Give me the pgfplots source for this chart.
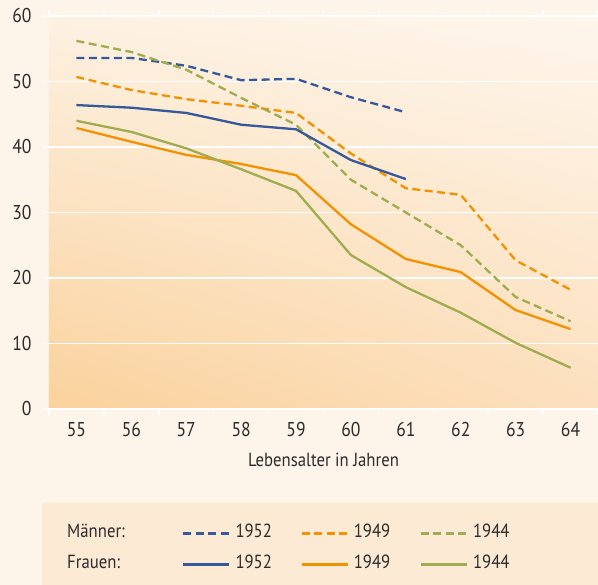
\documentclass[border=0pt]{standalone}
\usepackage{fontspec}
\setmainfont{PT Sans}[FakeStretch=0.88]
\usepackage{pgfplots}
\pgfplotsset{compat=1.18}
\usetikzlibrary{shadings}
\definecolor{cblue}{HTML}{35599A}
\definecolor{corange}{HTML}{F39200}
\definecolor{cgreen}{HTML}{A0AC50}
\definecolor{bgout}{HTML}{FDF4EA}
\definecolor{legbg}{HTML}{FDEAD4}
\definecolor{txt}{HTML}{2B2B2B}
\definecolor{sLL}{HTML}{FAD29C}
\definecolor{sLR}{HTML}{FCE0BE}
\definecolor{sUL}{HTML}{FDF1E2}
\definecolor{sUR}{HTML}{FEF6EC}
\begin{document}
\fontsize{19}{22}\selectfont
\begin{tikzpicture}
\path[use as bounding box] (0,0) rectangle (598pt,585pt);
\fill[bgout] (0,0) rectangle (598pt,585pt);
\fill[legbg] (42pt,0) rectangle (598pt,82pt);
\begin{axis}[
  at={(49pt,176pt)}, anchor=south west,
  scale only axis, width=549pt, height=393pt,
  xmin=54.5, xmax=64.5, ymin=0, ymax=60,
  xtick={55,...,64},
  minor xtick={54.5,55.5,...,64.5},
  ytick={0,10,...,60},
  axis line style={draw=none},
  major x tick style={draw=none},
  minor x tick style={white, line width=1.5pt},
  major y tick style={white, line width=1.5pt},
  tick align=outside,
  major tick length=6pt, minor tick length=6pt,
  ymajorgrids, major grid style={white, line width=1.5pt},
  ticklabel style={font=\fontsize{20}{23}\selectfont, text=txt},
  /pgf/number format/assume math mode=true,
  yticklabel style={xshift=-5pt},
  xticklabel style={yshift=-1pt},
  xlabel={Lebensalter in Jahren},
  xlabel style={font=\fontsize{19}{22}\selectfont, text=txt, yshift=-3pt},
  axis background/.style={shade, lower left=sLL, lower right=sLR, upper left=sUL, upper right=sUR},
  every axis plot/.append style={line width=2.3pt},
  legend image code/.code={\draw[#1] (0pt,0pt) -- (46pt,0pt);},
  legend columns=4,
  legend cell align=left,
  legend style={at={(axis description cs:0.0328,-0.297)}, anchor=north west,
    draw=none, fill=none, inner sep=0pt, column sep=0pt, row sep=16pt,
    font=\fontsize{19}{22}\selectfont, text=txt,
    nodes={inner sep=0pt, text height=12pt, text depth=3pt}},
]
\addlegendimage{empty legend}\addlegendentry[text width=115pt]{Männer:}
\addplot[cblue, dash pattern=on 8pt off 4.5pt] coordinates {(55,53.6) (56,53.6) (57,52.4) (58,50.2) (59,50.4) (60,47.6) (61,45.3)};
\addlegendentry[text width=70pt]{\hspace*{5pt}1952}
\addplot[corange, dash pattern=on 8pt off 4.5pt] coordinates {(55,50.7) (56,48.7) (57,47.3) (58,46.3) (59,45.2) (60,39.0) (61,33.7) (62,32.7) (63,22.7) (64,18.2)};
\addlegendentry[text width=71pt]{\hspace*{5pt}1949}
\addplot[cgreen, dash pattern=on 8pt off 4.5pt] coordinates {(55,56.2) (56,54.5) (57,51.8) (58,47.5) (59,43.4) (60,35.0) (61,30.0) (62,25.0) (63,17.1) (64,13.4)};
\addlegendentry[text width=50pt]{\hspace*{5pt}1944}
\addlegendimage{empty legend}\addlegendentry[text width=115pt]{Frauen:}
\addplot[cblue] coordinates {(55,46.4) (56,46.0) (57,45.2) (58,43.4) (59,42.7) (60,38.0) (61,35.1)};
\addlegendentry[text width=70pt]{\hspace*{5pt}1952}
\addplot[corange] coordinates {(55,42.9) (56,40.8) (57,38.8) (58,37.4) (59,35.7) (60,28.2) (61,22.9) (62,20.9) (63,15.1) (64,12.2)};
\addlegendentry[text width=71pt]{\hspace*{5pt}1949}
\addplot[cgreen] coordinates {(55,44.0) (56,42.3) (57,39.8) (58,36.6) (59,33.3) (60,23.5) (61,18.6) (62,14.7) (63,10.1) (64,6.3)};
\addlegendentry[text width=50pt]{\hspace*{5pt}1944}
\end{axis}
\end{tikzpicture}
\end{document}
